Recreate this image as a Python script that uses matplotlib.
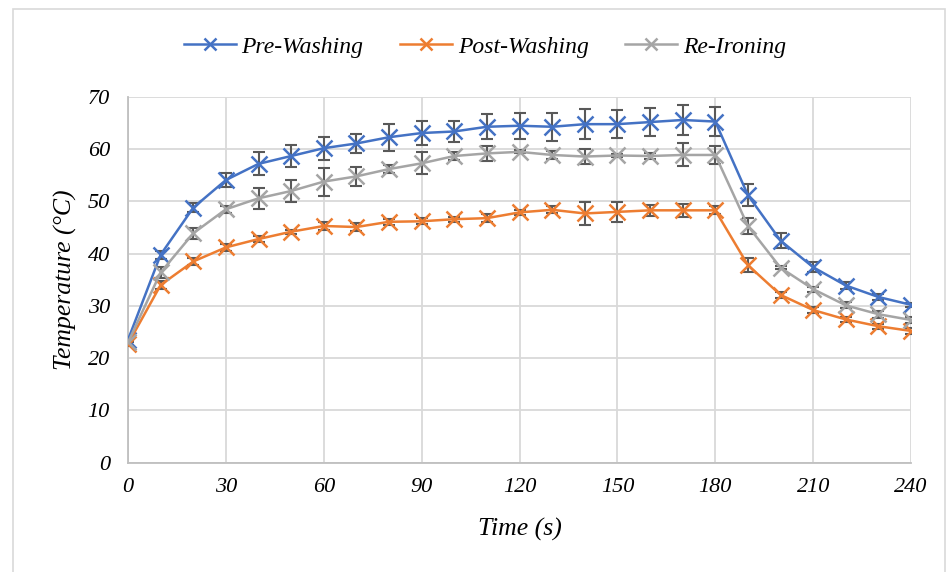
import matplotlib
matplotlib.use('Agg')
import matplotlib.pyplot as plt
from matplotlib.patches import Rectangle

plt.rcParams['font.family'] = ['Liberation Serif', 'DejaVu Serif']
plt.rcParams['font.style'] = 'italic'

# time points (s)
time = [0, 10, 20, 30, 40, 50, 60, 70, 80, 90, 100, 110, 120,
        130, 140, 150, 160, 170, 180, 190, 200, 210, 220, 230, 240]

# mean temperatures (°C)
pre_washing = [23.5, 39.8, 48.8, 54.1, 57.2, 58.7, 60.2, 61.1, 62.3, 63.1, 63.4, 64.3, 64.5,
               64.3, 64.8, 64.8, 65.2, 65.6, 65.3, 51.2, 42.5, 37.4, 33.9, 31.7, 30.2]
post_washing = [22.7, 34.0, 38.5, 41.2, 42.8, 44.2, 45.3, 45.1, 46.1, 46.2, 46.6, 46.8, 47.9,
                48.4, 47.7, 48.0, 48.3, 48.3, 48.3, 37.8, 32.1, 29.2, 27.4, 26.1, 25.2]
re_ironing = [23.0, 36.4, 43.9, 48.5, 50.6, 52.0, 53.8, 54.8, 56.2, 57.3, 58.7, 59.2, 59.5,
              58.9, 58.6, 58.8, 58.7, 58.9, 58.9, 45.3, 37.3, 33.2, 30.1, 28.4, 27.3]

# error (std dev)
pre_err = [0.5, 0.8, 0.9, 1.3, 2.2, 2.1, 2.2, 1.8, 2.6, 2.3, 2.1, 2.4, 2.5,
           2.7, 2.9, 2.7, 2.6, 2.9, 2.8, 2.1, 1.4, 1.0, 0.7, 0.6, 0.4]
post_err = [0.4, 0.7, 0.7, 0.6, 0.5, 0.4, 0.8, 0.7, 0.6, 0.6, 0.5, 0.7, 0.5,
            0.7, 2.2, 1.9, 1.0, 1.3, 0.8, 1.3, 0.5, 0.5, 0.5, 0.5, 0.5]
re_err = [0.4, 1.0, 1.05, 0.7, 2.0, 2.1, 2.7, 1.8, 0.8, 2.1, 0.8, 1.5, 0.3,
          0.8, 1.5, 0.3, 0.5, 2.2, 1.7, 1.5, 0.3, 0.5, 0.6, 0.7, 0.5]

series = [('Pre-Washing', pre_washing, pre_err, '#4472C4'),
          ('Post-Washing', post_washing, post_err, '#ED7D31'),
          ('Re-Ironing', re_ironing, re_err, '#A5A5A5')]

fig = plt.figure(figsize=(9.51, 5.72), dpi=100)
ax = fig.add_axes([0.1346, 0.1914, 0.8234, 0.639])

# chart border
fig.patches.append(Rectangle((0.014, -0.01), 0.98, 0.995, transform=fig.transFigure,
                             fill=False, edgecolor='#d9d9d9', linewidth=1.2))

handles = []
for name, vals, err, col in series:
    ax.errorbar(time, vals, yerr=err, fmt='none', ecolor='#595959', elinewidth=1.5,
                capsize=4.5, capthick=1.5, zorder=3)
    h, = ax.plot(time, vals, color=col, linewidth=1.8, marker='x', markersize=11,
                 markeredgewidth=1.8, label=name, zorder=4)
    handles.append(h)

ax.set_xlim(0, 240)
ax.set_ylim(0, 70)
ax.set_xticks(range(0, 241, 30))
ax.set_yticks(range(0, 71, 10))
ax.grid(True, color='#d9d9d9', linewidth=1.3)
ax.set_axisbelow(True)
for s in ['top', 'right']:
    ax.spines[s].set_visible(False)
for s in ['left', 'bottom']:
    ax.spines[s].set_color('#bfbfbf')
    ax.spines[s].set_linewidth(1.3)
ax.tick_params(axis='x', length=0, labelsize=16, pad=11)
ax.tick_params(axis='y', length=0, labelsize=16, pad=13)

ax.set_xlabel('Time (s)', fontsize=18.5, labelpad=15)
ax.set_ylabel('Temperature (°C)', fontsize=18.5, labelpad=8)

# legend markers a bit smaller than on the lines
leg = fig.legend(handles=handles, loc='center', bbox_to_anchor=(0.51, 0.918), ncol=3,
                 frameon=False, fontsize=17, handlelength=2.2, columnspacing=1.55,
                 handletextpad=0.25, markerscale=0.85)

fig.savefig('out.png', dpi=100)
